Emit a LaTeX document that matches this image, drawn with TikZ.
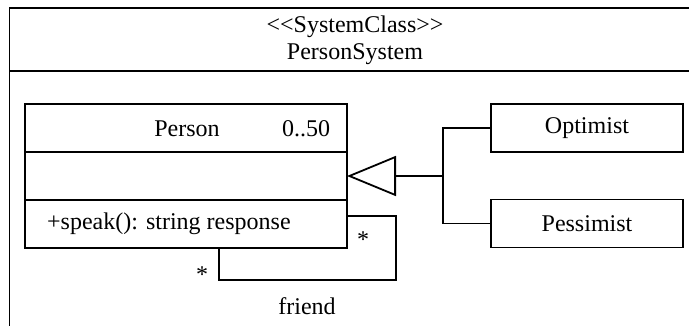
\documentclass[tikz,border=0pt]{standalone}
\usepackage{fontspec}
\setmainfont{Liberation Serif}
\usetikzlibrary{positioning,arrows.meta}

\begin{document}
\begin{tikzpicture}[
            x=1pt, y=-1pt,
            every node/.style={font=\fontsize{24}{27}\selectfont},
            part/.style={rectangle, draw=black, line width=1.8pt, minimum width=322pt, minimum height=48pt, inner sep=0pt, outer sep=0pt},
            subclass/.style={rectangle, draw=black, line width=1.8pt, minimum width=192pt, minimum height=48pt, inner sep=0pt, outer sep=0pt},
            conn/.style={line width=1.8pt},
            mult/.style={inner sep=0pt}
        ]
        \useasboundingbox (0,0) rectangle (689,326);
        \clip (0,0) rectangle (689,326);

        %system frame
        \draw[conn] (9.5,8) rectangle (701,400);
        \draw[conn] (9.5,71) -- (701,71);
        \node[align=center] (sys) at (355,40) {{<}{<}SystemClass{>}{>}\\PersonSystem};

        %person class
        \node[part]         (name)      at (186,128)        {};
        \node[part]         (attr)      [below=0pt of name] {};
        \node[part]         (ops)       [below=0pt of attr] {};
        \node               (pname)     at (187,129)        {Person};
        \node               (pmult)     at (306,129)        {0..50};
        \node[anchor=west, inner sep=0pt] (op) at (47,224) {+speak(): string response};

        %subclasses
        \node[subclass]     (Optimist)  at (587,128)        {Optimist};
        \node[subclass]     (Pessimist) at (587,223.5)      {Pessimist};

        %generalization
        \coordinate (junction) at (443,176);
        \draw[conn] (Optimist.west) -| (junction) |- (Pessimist.west);
        \draw[conn, -{Triangle[open, length=49pt, width=40pt, line width=1.8pt]}]
            (junction) -- (attr.east);

        %self association
        \coordinate (loopR) at (396,280);
        \draw[conn] ([yshift=8pt]ops.east) -| (loopR) -| ([xshift=33pt]ops.south);
        \node[mult]         (m1)        at (363,240)        {*};
        \node[mult]         (m2)        at (202,275)        {*};
        \node               (role)      at (307,306)        {friend};

        \end{tikzpicture}
\end{document}
